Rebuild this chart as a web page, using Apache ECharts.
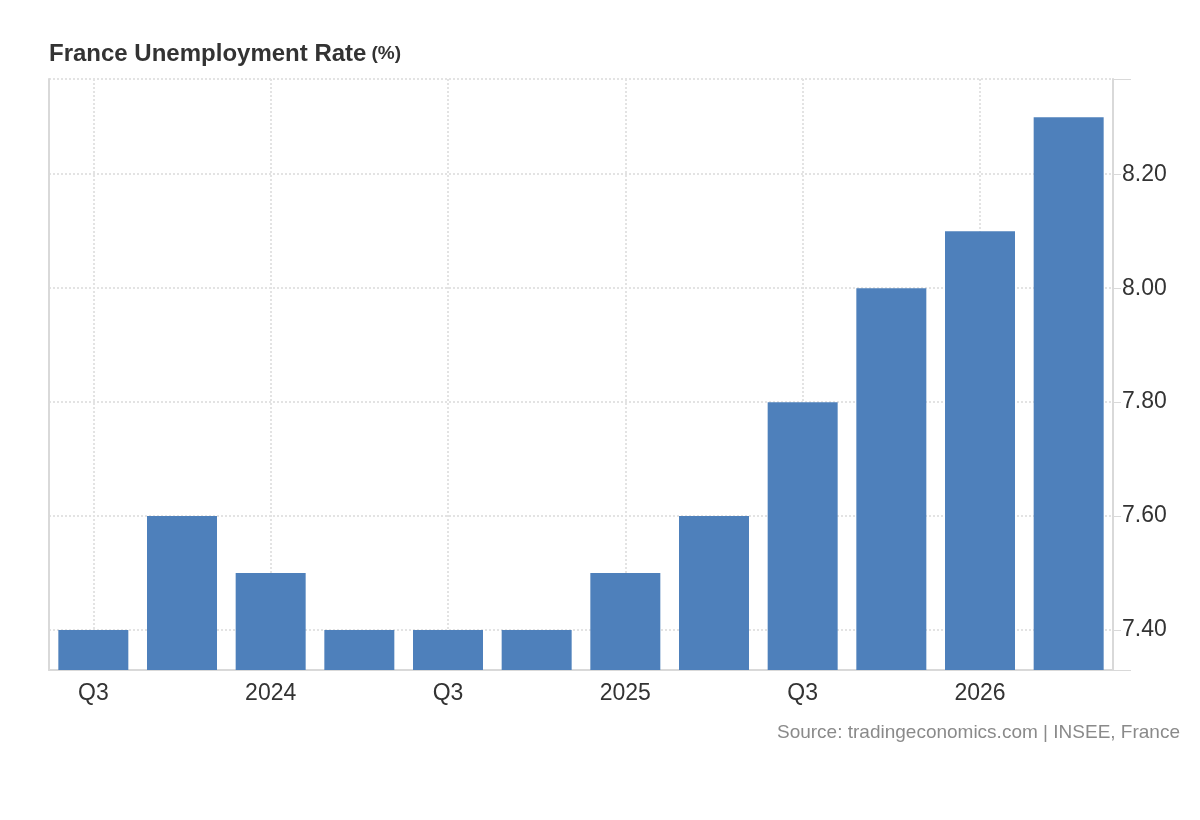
<!DOCTYPE html>
<html>
<head>
<meta charset="utf-8">
<title>France Unemployment Rate</title>
<script src="https://cdn.jsdelivr.net/npm/echarts@6/dist/echarts.min.js"></script>
<style>
    html, body { margin: 0; padding: 0; background: #fff; }
    #chartDiv { width: 1200px; height: 820px; }
</style>
</head>
<body>
<div id="chartDiv"></div>
<script>
/*
 * 数据
 * */
var quarters = ['Q3', 'Q4', '2024', 'Q2', 'Q3', 'Q4', '2025', 'Q2', 'Q3', 'Q4', '2026', 'Q2'];
var unemploymentRate = [7.4, 7.6, 7.5, 7.4, 7.4, 7.4, 7.5, 7.6, 7.8, 8.0, 8.1, 8.3];
var yLabelValues = [7.4, 7.6, 7.8, 8.0, 8.2];
var yMin = 7.33;
var yMax = 8.367;
var yTickValues = [yMin].concat(yLabelValues).concat([yMax]);

var fontName = '"Liberation Sans", Arial, sans-serif';
var axisColor = '#d9d9d9';
var gridColor = '#e3e3e3';

function drawChart() {
    var chartDiv = document.getElementById('chartDiv');
    var chart = echarts.init(chartDiv, null, {renderer: 'canvas'});

    var option = {
        backgroundColor: '#fff',
        animation: false,
        textStyle: {fontFamily: fontName},
        title: [
            {
                text: '{a|France Unemployment Rate} {b|(%)}',
                left: 44,
                top: 37,
                textStyle: {
                    rich: {
                        a: {fontSize: 24, fontWeight: 'bold', color: '#333', fontFamily: fontName},
                        b: {fontSize: 19, fontWeight: 'bold', color: '#333', fontFamily: fontName}
                    }
                }
            },
            {
                text: 'Source: tradingeconomics.com | INSEE, France',
                right: 15,
                top: 718,
                textStyle: {fontSize: 19, fontWeight: 'normal', color: '#8a8a8a', fontFamily: fontName}
            }
        ],
        grid: {
            left: 49,
            right: 87,
            top: 79,
            bottom: 150,
            containLabel: false
        },
        xAxis: {
            type: 'category',
            data: quarters,
            axisLine: {show: true, lineStyle: {color: axisColor, width: 2}},
            axisTick: {show: false},
            axisLabel: {
                interval: 1,
                margin: 12,
                fontSize: 23,
                color: '#333',
                fontFamily: fontName
            },
            splitLine: {
                show: true,
                interval: 1,
                alignWithLabel: true,
                lineStyle: {color: gridColor, type: [2, 2], width: 2}
            }
        },
        yAxis: [
            {
                type: 'value',
                position: 'right',
                min: yMin,
                max: yMax,
                axisLine: {show: true, lineStyle: {color: axisColor, width: 2}},
                axisTick: {
                    show: true,
                    length: 18,
                    customValues: yTickValues,
                    lineStyle: {color: axisColor, width: 1}
                },
                axisLabel: {
                    customValues: yLabelValues,
                    margin: 8,
                    fontSize: 23,
                    color: '#333',
                    fontFamily: fontName,
                    backgroundColor: '#fff',
                    padding: [0, 1, 0, 1],
                    formatter: function (v) {
                        return v.toFixed(2);
                    }
                },
                splitLine: {
                    show: true,
                    lineStyle: {color: gridColor, type: [2, 2], width: 2}
                }
            },
            {
                // 左边框
                type: 'value',
                position: 'left',
                min: yMin,
                max: yMax,
                axisLine: {show: true, lineStyle: {color: axisColor, width: 2}},
                axisTick: {show: false},
                axisLabel: {show: false},
                splitLine: {show: false}
            }
        ],
        series: [
            {
                name: 'Unemployment Rate',
                type: 'bar',
                data: unemploymentRate,
                barWidth: 70,
                itemStyle: {color: '#4e80bb'}
            }
        ]
    };
    chart.setOption(option);
}

drawChart();
</script>
</body>
</html>
